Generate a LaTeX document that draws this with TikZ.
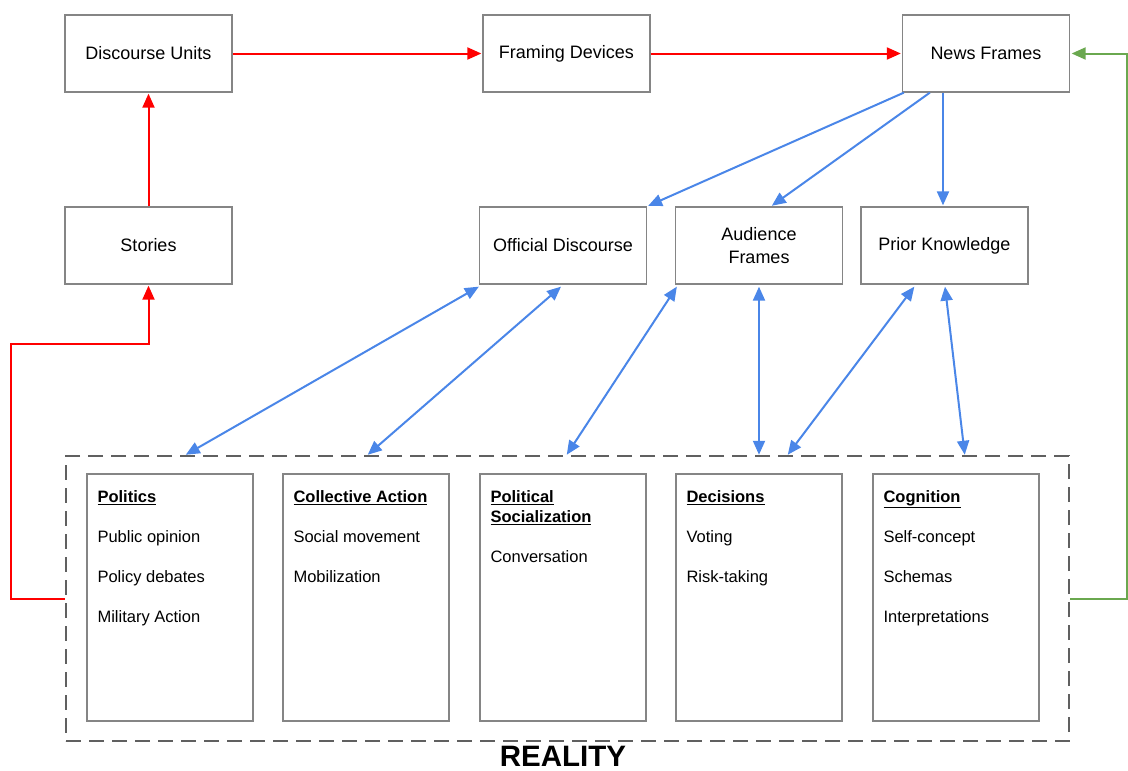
\documentclass[tikz,border=0pt]{standalone}
\usepackage{fontspec}
\setmainfont{Liberation Sans}
\usetikzlibrary{arrows.meta}
\definecolor{linkred}{HTML}{FF0000}
\definecolor{linkblue}{HTML}{4A86E8}
\definecolor{linkgreen}{HTML}{6AA84F}
\definecolor{boxgray}{HTML}{858585}
\definecolor{dashgray}{HTML}{606060}
\begin{document}
\begin{tikzpicture}[x=1pt,y=-1pt,
  >={Triangle[length=14pt,width=12pt]},
  box/.style={draw=boxgray,line width=1.3pt,fill=white,minimum width=167pt,minimum height=77pt,
    inner sep=0pt,align=center,font=\fontsize{18}{23}\selectfont},
  panel/.style={draw=boxgray,line width=1.3pt,minimum width=166pt,minimum height=247pt,inner sep=0pt},
  paneltext/.style={anchor=north west,inner sep=0pt,align=left,font=\fontsize{16.5}{20}\selectfont},
  redlink/.style={draw=linkred,line width=2pt,->,shorten >=1pt},
  bluelink/.style={draw=linkblue,line width=2pt,->,shorten >=1pt},
  bluetwoway/.style={draw=linkblue,line width=2pt,<->},
  greenlink/.style={draw=linkgreen,line width=2pt,->,shorten >=1.5pt}]
\useasboundingbox (0,0) rectangle (1128,771);

% outer reality frame
\node[draw=dashgray,line width=2.5pt,dash pattern=on 15pt off 8pt,minimum width=1003pt,minimum height=285pt,inner sep=0pt]
  (reality) at (567.5,598.5) {};
\node[font=\fontsize{29.5}{30}\bfseries\selectfont,inner sep=0pt] (realitylabel) at (563,756) {REALITY};

% top row
\node[box] (du) at (148.5,53.5) {Discourse Units};
\node[box] (fd) at (566.5,53.5) {Framing Devices};
\node[box] (nf) at (986,53.5) {News Frames};

% middle row
\node[box] (st) at (148.5,245.5) {Stories};
\node[box] (od) at (563,245.5) {Official Discourse};
\node[box] (af) at (759,245.5) {Audience\\Frames};
\node[box] (pk) at (944.5,245.5) {Prior Knowledge};

% panels inside reality
\node[panel] (p1) at (170,597.5) {};
\node[panel] (p2) at (366,597.5) {};
\node[panel] (p3) at (563,597.5) {};
\node[panel] (p4) at (759,597.5) {};
\node[panel] (p5) at (956,597.5) {};

\node[paneltext] (t1) at ([xshift=11pt,yshift=-17pt]p1.north west)
  {\underline{\textbf{Politics}}\\[20pt]Public opinion\\[20pt]Policy debates\\[20pt]Military Action};
\node[paneltext] (t2) at ([xshift=11pt,yshift=-17pt]p2.north west)
  {\underline{\textbf{Collective Action}}\\[20pt]Social movement\\[20pt]Mobilization};
\node[paneltext] (t3) at ([xshift=11pt,yshift=-17pt]p3.north west)
  {\underline{\textbf{Political}}\\\underline{\textbf{Socialization}}\\[20pt]Conversation};
\node[paneltext] (t4) at ([xshift=11pt,yshift=-17pt]p4.north west)
  {\underline{\textbf{Decisions}}\\[20pt]Voting\\[20pt]Risk-taking};
\node[paneltext] (t5) at ([xshift=11pt,yshift=-17pt]p5.north west)
  {\underline{\textbf{Cognition}}\\[20pt]Self-concept\\[20pt]Schemas\\[20pt]Interpretations};

% red chain
\draw[redlink] (du.east) -- (fd.west);
\draw[redlink] (fd.east) -- (nf.west);
\draw[redlink] (st.north) -- (du.south);
\draw[redlink] (reality.west) -- ++(-54,0) |- ([yshift=-59pt]st.south) -- (st.south);

% green feedback
\draw[greenlink] (reality.east) -- ++(57,0) |- (nf.east);

% news frames outputs
\draw[bluelink] ([xshift=2pt]nf.south west) -- (od.north east);
\draw[bluelink] ([xshift=28pt]nf.south west) -- ([xshift=12pt]af.north);
\draw[bluelink] ([xshift=-43pt]nf.south) -- ([xshift=-43pt]nf.south |- pk.north);

% two-way links with reality
\draw[bluetwoway] ([yshift=-2pt]od.south west) -- ([xshift=121pt]reality.north west);
\draw[bluetwoway] ([xshift=-2pt,yshift=-2pt]od.south) -- ([xshift=303pt]reality.north west);
\draw[bluetwoway] ([xshift=2pt,yshift=-2pt]af.south west) -- ([xshift=502pt]reality.north west);
\draw[bluetwoway] ([yshift=-2pt]af.south) -- (af.south |- reality.north);
\draw[bluetwoway] ([xshift=54pt,yshift=-2pt]pk.south west) -- ([xshift=723pt]reality.north west);
\draw[bluetwoway] ([xshift=0.5pt,yshift=-2pt]pk.south) -- ([xshift=900pt]reality.north west);
\end{tikzpicture}
\end{document}
